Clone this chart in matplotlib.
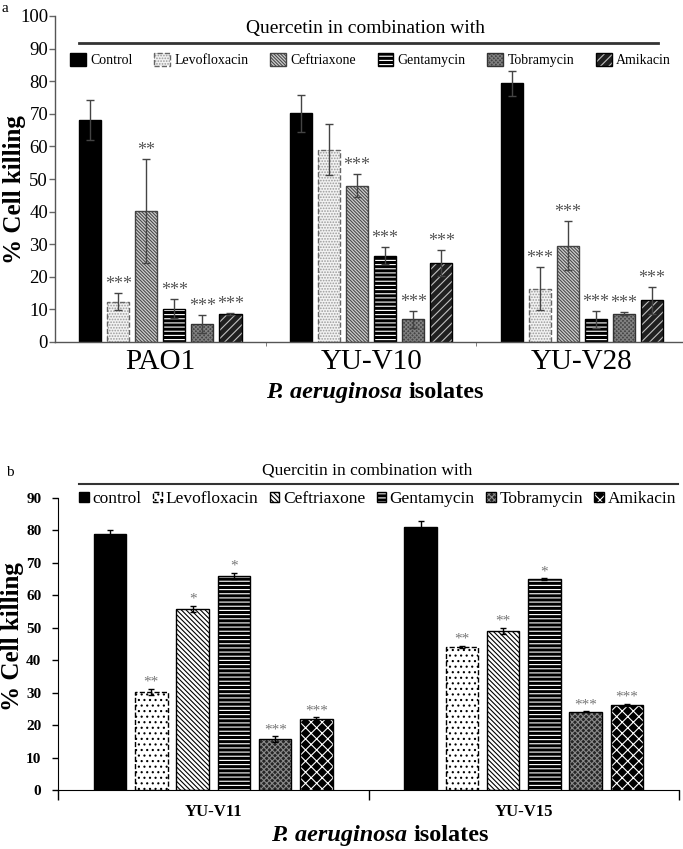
import numpy as np
import matplotlib
matplotlib.use("Agg")
import matplotlib.pyplot as plt
from matplotlib.patches import Patch
from matplotlib.lines import Line2D

plt.rcParams['font.family'] = ['Liberation Serif', 'DejaVu Serif']
plt.rcParams['hatch.linewidth'] = 0.8

# ---- panel a data ----
isolates_a = ['PAO1', 'YU-V10', 'YU-V28']
drugs_a = ['Control', 'Levofloxacin', 'Ceftriaxone', 'Gentamycin', 'Tobramycin', 'Amikacin']
control_a = [68.1, 70.1, 79.3]
levo_a = [12.3, 59.0, 16.4]
ceft_a = [40.2, 48.0, 29.6]
gent_a = [10.2, 26.4, 7.0]
tobra_a = [5.5, 7.0, 8.7]
amik_a = [8.6, 24.1, 12.8]
control_a_err = [6.1, 5.7, 3.7]
levo_a_err = [2.6, 7.9, 6.5]
ceft_a_err = [15.9, 3.6, 7.4]
gent_a_err = [2.9, 2.6, 2.6]
tobra_a_err = [2.7, 2.6, 0.4]
amik_a_err = [0.4, 4.0, 4.1]
stars_a = [['', '', ''], ['***', '', '***'], ['**', '***', '***'],
           ['***', '***', '***'], ['***', '***', '***'], ['***', '***', '***']]

# ---- panel b data ----
isolates_b = ['YU-V11', 'YU-V15']
drugs_b = ['control', 'Levofloxacin', 'Ceftriaxone', 'Gentamycin', 'Tobramycin', 'Amikacin']
control_b = [78.9, 81.2]
levo_b = [30.3, 44.1]
ceft_b = [55.9, 49.1]
gent_b = [65.9, 65.0]
tobra_b = [15.7, 24.1]
amik_b = [21.9, 26.2]
control_b_err = [1.2, 1.8]
levo_b_err = [0.9, 0.3]
ceft_b_err = [0.9, 0.9]
gent_b_err = [1.0, 0.3]
tobra_b_err = [0.9, 0.2]
amik_b_err = [0.5, 0.3]
stars_b = [['', ''], ['**', '**'], ['*', '**'], ['*', '*'], ['***', '***'], ['***', '***']]

means_a = [control_a, levo_a, ceft_a, gent_a, tobra_a, amik_a]
errs_a = [control_a_err, levo_a_err, ceft_a_err, gent_a_err, tobra_a_err, amik_a_err]
means_b = [control_b, levo_b, ceft_b, gent_b, tobra_b, amik_b]
errs_b = [control_b_err, levo_b_err, ceft_b_err, gent_b_err, tobra_b_err, amik_b_err]

# face, hatch, hatch colour, outline, outline style
styles_a = [
    ('black', '', 'black', 'black', '-'),
    ('#f2f2f2', '......', '#9a9a9a', '#666666', '--'),
    ('#d0d0d0', '\\' * 10, '#4a4a4a', '#444444', '-'),
    ('black', '----', 'white', 'black', '-'),
    ('#454545', 'x' * 8, '#808080', '#333333', '-'),
    ('#202020', '////', '#c0c0c0', 'black', '-'),
]
styles_b = [
    ('black', '', 'black', 'black', '-'),
    ('white', '...', 'black', 'black', '--'),
    ('white', '\\' * 7, 'black', 'black', '-'),
    ('black', '----', 'white', 'black', '-'),
    ('#262626', 'x' * 6, '#8a8a8a', 'black', '-'),
    ('black', 'xxx', 'white', 'black', '-'),
]

W, H = 683, 849
fig = plt.figure(figsize=(W / 100, H / 100), dpi=100)


def fx(px):
    return px / W


def fy(px):
    return 1 - px / H


pitch, width = 0.133, 0.105


def draw_bars(ax, isolates, means, errs, stars, styles, ecol, cap, star_size, star_col):
    x = np.arange(len(isolates))
    handles = []
    for i in range(len(means)):
        face, hatch, hc, edge, ls = styles[i]
        pos = x + (i - 2.5) * pitch
        ax.bar(pos, means[i], width, facecolor=face, edgecolor=hc, hatch=hatch, linewidth=0)
        ax.bar(pos, means[i], width, facecolor='none', edgecolor=edge, linestyle=ls, linewidth=1)
        ax.errorbar(pos, means[i], yerr=errs[i], fmt='none', ecolor=ecol, elinewidth=1, capsize=cap,
                    capthick=1)
        for p, m, e, s in zip(pos, means[i], errs[i], stars[i]):
            if s:
                ax.annotate(s, (p, m + e), xytext=(0, 0), textcoords='offset points',
                            ha='center', va='bottom', fontsize=star_size, color=star_col)
        handles.append((Patch(facecolor=face, edgecolor=hc, hatch=hatch, linewidth=0),
                        Patch(facecolor='none', edgecolor=edge, linestyle=ls, linewidth=1)))
    return handles


def isolates_label(split_x, baseline_y):
    fig.text(fx(split_x), fy(baseline_y), 'P. aeruginosa', fontsize=17.5, fontweight='bold',
             fontstyle='italic', ha='right', va='baseline')
    fig.text(fx(split_x + 6), fy(baseline_y), 'isolates', fontsize=17.5, fontweight='bold',
             ha='left', va='baseline')


# ================= panel a =================
ax1 = fig.add_axes([fx(55), fy(342), fx(683) - fx(55), (342 - 16) / H])
h1 = draw_bars(ax1, isolates_a, means_a, errs_a, stars_a, styles_a, '#444444', 3, 13, '#555555')
ax1.set_ylim(0, 100)
ax1.set_xlim(-0.5, 2.48)
ax1.set_yticks(range(0, 101, 10))
ax1.tick_params(axis='y', labelsize=13.5, length=4, width=1, color='#666666', pad=1)
ax1.set_xticks(range(3))
ax1.set_xticklabels(isolates_a, fontsize=21)
ax1.tick_params(axis='x', which='major', length=0, pad=5)
ax1.set_xticks([0.5, 1.5], minor=True)
ax1.tick_params(axis='x', which='minor', length=3, color='#666666')
for s in ['top', 'right']:
    ax1.spines[s].set_visible(False)
for s in ['left', 'bottom']:
    ax1.spines[s].set_color('#555555')
    ax1.spines[s].set_linewidth(1)

fig.text(fx(366), fy(29), 'Quercetin in combination with', fontsize=14, ha='center', va='center')
fig.add_artist(Line2D([fx(79), fx(658)], [fy(43), fy(43)], color='#333333', lw=2))
ax1.legend(h1, drugs_a, ncol=6, loc='center', mode='expand', frameon=False,
           bbox_to_anchor=(fx(70), fy(70), fx(671) - fx(70), 20 / H), bbox_transform=fig.transFigure,
           fontsize=10, handlelength=1.15, handleheight=1.15, handletextpad=0.3,
           borderaxespad=0, borderpad=0, columnspacing=0.5)
fig.text(fx(15), fy(190), '% Cell killing', rotation=90, fontsize=18, fontweight='bold',
         ha='center', va='center')
isolates_label(402, 398)
fig.text(fx(5), fy(8), 'a', fontsize=11, ha='center', va='center')

# ================= panel b =================
ax2 = fig.add_axes([fx(58), fy(790), fx(679) - fx(58), (790 - 498) / H])
h2 = draw_bars(ax2, isolates_b, means_b, errs_b, stars_b, styles_b, 'black', 2.5, 11, '#777777')
ax2.set_ylim(0, 90)
ax2.set_xlim(-0.5, 1.5)
ax2.set_yticks(range(0, 91, 10))
ax2.set_yticklabels([str(v) for v in range(0, 91, 10)], fontsize=11, fontweight='bold')
ax2.tick_params(axis='y', length=4, width=1, pad=8)
ax2.set_xticks(range(2))
ax2.set_xticklabels(isolates_b, fontsize=12, fontweight='bold')
ax2.tick_params(axis='x', which='major', length=0, pad=10)
ax2.set_xticks([-0.5, 0.5, 1.5], minor=True)
ax2.tick_params(axis='x', which='minor', length=7, width=1)
for s in ['top', 'right']:
    ax2.spines[s].set_visible(False)

fig.text(fx(367), fy(471), 'Quercitin in combination with', fontsize=12.5, ha='center', va='center')
fig.add_artist(Line2D([fx(79), fx(678)], [fy(484), fy(484)], color='#333333', lw=1.5))
ax2.legend(h2, drugs_b, ncol=6, loc='center', mode='expand', frameon=False,
           bbox_to_anchor=(fx(79), fy(509), fx(676) - fx(79), 20 / H), bbox_transform=fig.transFigure,
           fontsize=12.5, handlelength=0.55, handleheight=0.55, handletextpad=0.2,
           borderaxespad=0, borderpad=0, columnspacing=0.5)
fig.text(fx(13), fy(637), '% Cell killing', rotation=90, fontsize=18, fontweight='bold',
         ha='center', va='center')
isolates_label(407, 841)
fig.text(fx(10), fy(473), 'b', fontsize=11, ha='center', va='center')

fig.savefig('out.png', dpi=100)
